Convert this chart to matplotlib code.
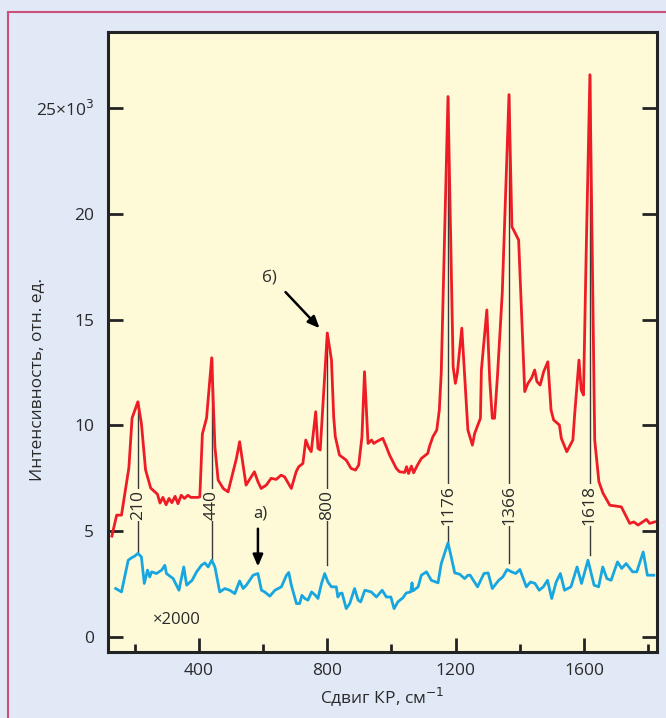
import numpy as np
import matplotlib
matplotlib.use("Agg")
import matplotlib.pyplot as plt
from matplotlib.patches import Rectangle

plt.rcParams['font.family'] = ['Open Sans', 'DejaVu Sans']

# ---- data ----
red_x = [129, 144, 159, 182, 192, 210, 221, 234, 250, 271, 279, 288, 298, 307, 316, 326, 335, 345,
         355, 366, 375, 398, 403, 411, 424, 440, 450, 460, 476, 491, 517, 527, 547, 563, 573, 584,
         594, 610, 625, 641, 656, 667, 688, 703, 711, 724, 733, 743, 750, 764, 771, 778, 800, 813,
         820, 825, 838, 859, 874, 888, 898, 908, 916, 927, 938, 945, 953, 973, 984, 994, 1015, 1025,
         1041, 1047, 1053, 1062, 1069, 1081, 1093, 1113, 1118, 1129, 1141, 1149, 1155, 1176, 1192,
         1199, 1205, 1219, 1231, 1238, 1252, 1259, 1277, 1280, 1297, 1306, 1314, 1321, 1330, 1345,
         1366, 1375, 1396, 1415, 1425, 1436, 1446, 1453, 1463, 1474, 1487, 1497, 1505, 1523, 1529,
         1546, 1565, 1570, 1584, 1591, 1598, 1606, 1618, 1633, 1646, 1659, 1680, 1716, 1742, 1755,
         1768, 1794, 1804, 1820]
red_y = [4.77, 5.76, 5.76, 8.0, 10.35, 11.12, 10.1, 7.9, 7.04, 6.75, 6.33, 6.6, 6.25, 6.55, 6.35, 6.65,
         6.3, 6.7, 6.55, 6.7, 6.6, 6.6, 6.63, 9.6, 10.35, 13.2, 8.99, 7.42, 7.02, 6.86, 8.44, 9.23, 7.18,
         7.57, 7.81, 7.34, 7.02, 7.18, 7.5, 7.45, 7.65, 7.57, 7.02, 7.81, 8.05, 8.2, 9.31, 8.92, 8.76,
         10.65, 8.92, 8.84, 14.37, 13.1, 10.4, 9.47, 8.6, 8.36, 7.97, 7.89, 8.13, 9.47, 12.54, 9.15,
         9.31, 9.15, 9.23, 9.39, 8.99, 8.6, 7.97, 7.81, 7.78, 8.05, 7.73, 8.08, 7.76, 8.13, 8.44, 8.68,
         8.99, 9.47, 9.78, 10.73, 12.5, 25.55, 12.78, 11.99, 12.47, 14.6, 11.52, 9.78, 9.07, 9.62,
         10.34, 12.62, 15.46, 12.15, 10.34, 10.34, 12.31, 16.25, 25.64, 19.4, 18.77, 11.6, 11.99,
         12.23, 12.62, 12.07, 11.91, 12.54, 13.01, 10.73, 10.26, 10.02, 9.39, 8.76, 9.31, 10.41,
         13.09, 11.68, 11.44, 17.83, 26.58, 9.31, 7.34, 6.79, 6.23, 6.15, 5.37, 5.44, 5.29, 5.56,
         5.37, 5.44]

blue_x = [141, 159, 180, 190, 200, 210, 221, 230, 240, 247, 253, 268, 284, 294, 299, 320, 338, 353,
          362, 379, 393, 408, 419, 429, 440, 450, 465, 481, 496, 512, 527, 538, 548, 569, 584, 595,
          605, 621, 637, 657, 673, 680, 688, 704, 714, 721, 730, 740, 751, 763, 771, 782, 792, 802,
          813, 828, 833, 839, 846, 859, 870, 885, 896, 904, 917, 937, 953, 971, 984, 998, 1008, 1020,
          1036, 1046, 1060, 1064, 1067, 1083, 1093, 1109, 1124, 1145, 1155, 1176, 1186, 1197, 1212,
          1228, 1238, 1245, 1255, 1268, 1288, 1301, 1314, 1334, 1347, 1360, 1374, 1387, 1400, 1420,
          1433, 1447, 1460, 1473, 1486, 1499, 1513, 1526, 1539, 1559, 1578, 1592, 1612, 1631, 1645,
          1658, 1671, 1684, 1704, 1717, 1731, 1751, 1764, 1784, 1797, 1817]
blue_y = [2.29, 2.13, 3.63, 3.74, 3.82, 3.95, 3.79, 2.53, 3.16, 2.84, 3.08, 3.0, 3.16, 3.39, 3.0, 2.76,
          2.21, 3.31, 2.45, 2.68, 3.08, 3.39, 3.5, 3.31, 3.63, 3.31, 2.13, 2.29, 2.21, 2.05, 2.65, 2.29,
          2.45, 2.92, 3.0, 2.21, 2.13, 1.93, 2.21, 2.37, 2.92, 3.05, 2.45, 1.58, 1.58, 1.97, 1.82, 1.74,
          2.13, 1.97, 1.82, 2.53, 3.0, 2.6, 2.37, 2.37, 1.89, 2.05, 2.08, 1.34, 1.58, 2.29, 1.74, 1.66,
          2.21, 2.13, 1.89, 2.21, 1.89, 1.89, 1.34, 1.66, 1.86, 2.08, 2.13, 2.56, 2.18, 2.37, 2.92,
          3.08, 2.68, 2.56, 3.47, 4.45, 3.79, 3.03, 2.97, 2.76, 2.92, 2.92, 2.68, 2.37, 3.0, 3.03, 2.29,
          2.68, 2.84, 3.19, 3.08, 3.0, 3.19, 2.37, 2.6, 2.53, 2.21, 2.37, 2.68, 1.82, 2.6, 3.0, 2.21,
          2.37, 3.31, 2.53, 3.63, 2.45, 2.37, 3.31, 2.76, 2.68, 3.55, 3.24, 3.47, 3.08, 3.08, 4.02,
          2.92, 2.92]

peak_labels = [210, 440, 800, 1176, 1366, 1618]
peak_line_bottom = [3.95, 3.63, 3.39, 4.5, 3.49, 3.87]

x_ticks = [400, 800, 1200, 1600]
x_minor = [200, 600, 1000, 1400, 1800]
y_ticks = [0, 5, 10, 15, 20, 25]
y_ticklabels = ['0', '5', '10', '15', '20', '25×10$^3$']

# ---- styling ----
fig_bg = '#e1e8f6'
ax_bg = '#fefad8'
red = '#ee1c25'
blue = '#17a6e0'
txt = '#2a2a2a'
spine_c = '#232323'

fig = plt.figure(figsize=(6.66, 7.18), dpi=100, facecolor=fig_bg)
# pink frame
fig.patches.append(Rectangle((8 / 666, -0.2), 1.2, 1.2 - 12 / 718,
                             transform=fig.transFigure, facecolor='none',
                             edgecolor='#c9517c', linewidth=1.5))

ax = fig.add_axes([108 / 666, 1 - 652 / 718, (657 - 108) / 666, (652 - 32) / 718])
ax.set_facecolor(ax_bg)
ax.set_xlim(117, 1827)
ax.set_ylim(-0.71, 28.6)

# peak marker lines (behind curves)
for px, pb in zip(peak_labels, peak_line_bottom):
    top = np.interp(px, red_x, red_y)
    ax.plot([px, px], [pb, top], color='#3a3a3a', lw=1.0, zorder=2)
    ax.text(px, 6.25, str(px), rotation=90, ha='center', va='center', fontsize=12.5,
            color=txt, zorder=3,
            bbox=dict(facecolor=ax_bg, edgecolor='none', pad=0.6))

ax.plot(red_x, red_y, color=red, lw=2.0, zorder=4, solid_joinstyle='round')
ax.plot(blue_x, blue_y, color=blue, lw=2.0, zorder=4, solid_joinstyle='round')

# annotations
ax.text(621, 17.0, 'б)', ha='center', va='center', fontsize=12, color=txt)
ax.annotate('', xy=(782, 14.5), xytext=(664, 16.4),
            arrowprops=dict(arrowstyle='-|>,head_length=0.7,head_width=0.3', color='black', lw=1.8))
ax.text(590, 5.85, 'а)', ha='center', va='center', fontsize=12, color=txt)
ax.annotate('', xy=(584, 3.2), xytext=(584, 5.25),
            arrowprops=dict(arrowstyle='-|>,head_length=0.7,head_width=0.3', color='black', lw=1.8))
ax.text(257, 0.8, '×2000', ha='left', va='center', fontsize=12, color=txt)

# axes styling
for s in ax.spines.values():
    s.set_color(spine_c)
    s.set_linewidth(2.2)
ax.set_xticks(x_ticks)
ax.set_xticks(x_minor, minor=True)
ax.set_yticks(y_ticks)
ax.set_yticklabels(y_ticklabels)
ax.tick_params(axis='x', which='major', direction='in', length=10, width=2, color=spine_c,
               labelsize=12.5, labelcolor=txt, pad=8, top=False)
ax.tick_params(axis='x', which='minor', direction='in', length=6, width=2, color=spine_c, top=False)
ax.tick_params(axis='y', which='major', direction='in', length=11, width=2, color=spine_c,
               labelsize=12.5, labelcolor=txt, pad=10, right=True)

ax.set_xlabel('Сдвиг КР, см$^{-1}$', fontsize=12.5, color=txt, labelpad=4)
ax.set_ylabel('Интенсивность, отн. ед.', fontsize=12.5, color=txt)
ax.yaxis.set_label_coords(-0.115, 0.44)

fig.savefig('out.png', dpi=100, facecolor=fig_bg)
